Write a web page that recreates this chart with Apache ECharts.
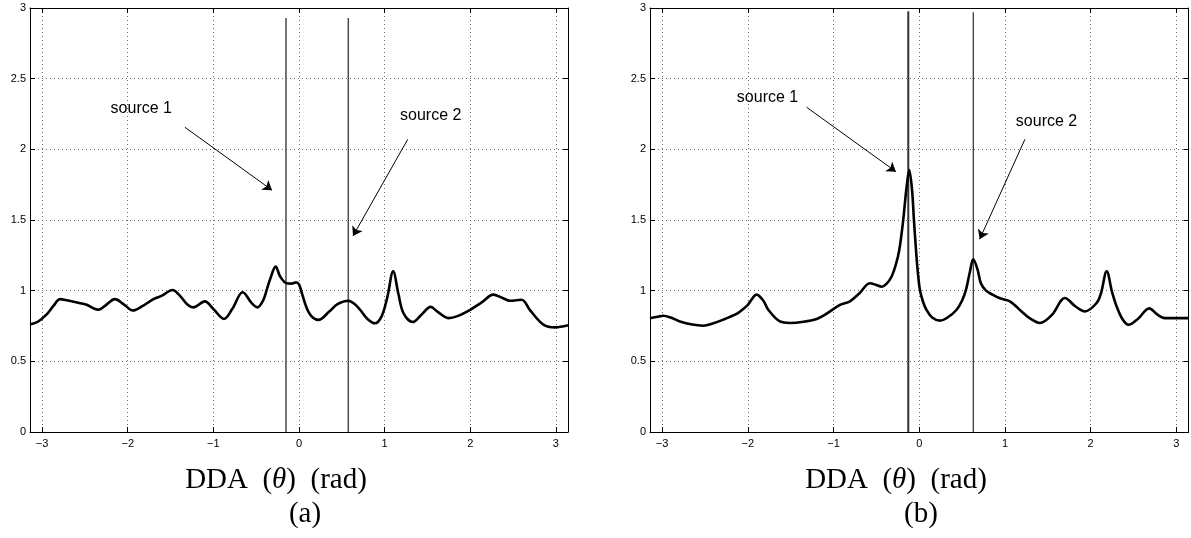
<!DOCTYPE html>
<html>
<head>
<meta charset="utf-8">
<script src="https://cdn.jsdelivr.net/npm/echarts@6/dist/echarts.min.js"></script>
<style>
html,body{margin:0;padding:0;background:#fff;}
#chart{width:1191px;height:538px;}
</style>
</head>
<body>
<div id="chart"></div>
<script>
// ---- data ----
const thetaA = [-3.1416,-3.05,-2.95,-2.87,-2.79,-2.70,-2.58,-2.48,-2.40,-2.345,-2.27,-2.15,-2.05,-1.94,-1.83,-1.70,-1.60,-1.476,-1.40,-1.30,-1.235,-1.10,-1.00,-0.876,-0.78,-0.658,-0.55,-0.487,-0.42,-0.377,-0.338,-0.272,-0.22,-0.144,-0.09,-0.035,0.0,0.03,0.07,0.109,0.16,0.226,0.35,0.45,0.576,0.65,0.713,0.80,0.888,0.966,1.03,1.10,1.16,1.219,1.328,1.43,1.538,1.62,1.744,1.85,2.00,2.13,2.27,2.37,2.465,2.60,2.70,2.854,2.99,3.1416];
const ddaA   = [0.76,0.78,0.83,0.89,0.94,0.93,0.915,0.90,0.875,0.865,0.89,0.94,0.905,0.86,0.89,0.94,0.965,1.005,0.97,0.90,0.882,0.924,0.87,0.80,0.87,0.989,0.91,0.882,0.93,1.005,1.08,1.17,1.10,1.052,1.05,1.059,1.045,0.99,0.91,0.851,0.81,0.793,0.85,0.905,0.929,0.905,0.865,0.80,0.769,0.82,0.95,1.137,0.98,0.842,0.778,0.83,0.885,0.85,0.806,0.82,0.865,0.915,0.972,0.95,0.929,0.936,0.86,0.76,0.74,0.755];

const thetaB = [-3.1416,-3.05,-2.987,-2.90,-2.792,-2.65,-2.52,-2.40,-2.267,-2.15,-2.09,-2.00,-1.897,-1.82,-1.762,-1.625,-1.509,-1.35,-1.197,-1.10,-0.925,-0.809,-0.70,-0.575,-0.50,-0.439,-0.38,-0.322,-0.275,-0.233,-0.187,-0.15,-0.117,-0.085,-0.062,-0.038,-0.015,0.008,0.045,0.086,0.15,0.242,0.33,0.436,0.50,0.545,0.59,0.63,0.68,0.72,0.78,0.86,0.942,1.058,1.214,1.30,1.408,1.55,1.70,1.82,1.934,2.07,2.12,2.187,2.25,2.303,2.37,2.44,2.55,2.684,2.78,2.867,3.1416];
const ddaB   = [0.805,0.815,0.823,0.81,0.782,0.76,0.752,0.77,0.80,0.83,0.853,0.90,0.972,0.93,0.865,0.782,0.771,0.78,0.80,0.83,0.899,0.925,0.98,1.052,1.04,1.028,1.05,1.10,1.18,1.288,1.50,1.72,1.854,1.72,1.50,1.288,1.12,1.005,0.92,0.863,0.81,0.788,0.81,0.865,0.93,1.005,1.13,1.222,1.15,1.05,1.00,0.97,0.946,0.924,0.842,0.80,0.771,0.83,0.948,0.89,0.853,0.913,0.98,1.137,0.99,0.889,0.80,0.759,0.80,0.875,0.83,0.806,0.806];

const xTicks = [-3,-2,-1,0,1,2,3];
const yMin = 0, yMax = 3, yStep = 0.5;

// true source directions (vertical lines) and their heights
const sourcesA = [-0.152, 0.576];
const sourceTopA = [2.93, 2.93];
const sourcesB = [-0.128, 0.63];
const sourceTopB = [2.977, 2.97];

// annotations (data coordinates)
const labelText = ['source 1', 'source 2'];
const labelAtA = [[-2.20, 2.286], [1.18, 2.236]];
const arrowsA = [[[-1.332, 2.156], [-0.315, 1.711]], [[1.27, 2.071], [0.631, 1.387]]];
const labelAtB = [[-2.128, 2.366], [1.127, 2.196]];
const arrowsB = [[[-1.315, 2.298], [-0.272, 1.842]], [[1.233, 2.071], [0.705, 1.364]]];

const captions = ['(a)', '(b)'];

// ---- build ----
const tickFont = 'Liberation Sans, Arial, sans-serif';
const gridStyle = {color: '#6a6a6a', width: 1, type: [1, 3]};

function xAxes(g) {
  return [
    {type: 'value', gridIndex: g, position: 'bottom', min: -Math.PI, max: Math.PI,
     axisLine: {show: true, onZero: false, lineStyle: {color: '#000', width: 1}},
     axisTick: {show: true, inside: true, length: 5, customValues: xTicks, lineStyle: {color: '#000'}},
     axisLabel: {show: true, customValues: xTicks, color: '#000', fontSize: 11, fontFamily: tickFont, margin: 6,
                 formatter: v => String(v).replace('-', '\u2212')},
     splitLine: {show: true, lineStyle: gridStyle}},
    {type: 'value', gridIndex: g, position: 'top', min: -Math.PI, max: Math.PI,
     axisLine: {show: true, onZero: false, lineStyle: {color: '#000', width: 1}},
     axisTick: {show: true, inside: true, length: 5, customValues: xTicks, lineStyle: {color: '#000'}},
     axisLabel: {show: false, customValues: xTicks},
     splitLine: {show: false}}
  ];
}
function yAxes(g) {
  return [
    {type: 'value', gridIndex: g, position: 'left', min: yMin, max: yMax, interval: yStep,
     axisLine: {show: true, onZero: false, lineStyle: {color: '#000', width: 1}},
     axisTick: {show: true, inside: true, length: 5, lineStyle: {color: '#000'}},
     axisLabel: {show: true, color: '#000', fontSize: 11, fontFamily: tickFont, margin: 4},
     splitLine: {show: true, lineStyle: gridStyle}},
    {type: 'value', gridIndex: g, position: 'right', min: yMin, max: yMax, interval: yStep,
     axisLine: {show: true, onZero: false, lineStyle: {color: '#000', width: 1}},
     axisTick: {show: true, inside: true, length: 5, lineStyle: {color: '#000'}},
     axisLabel: {show: false},
     splitLine: {show: false}}
  ];
}

function curveSeries(g, thetas, vals, labelAt, arrows) {
  return {
    type: 'line', xAxisIndex: g * 2, yAxisIndex: g * 2,
    data: thetas.map((t, i) => [t, vals[i]]),
    showSymbol: false, smooth: 0.35, clip: true,
    lineStyle: {color: '#000', width: 2.6},
    silent: true,
    markLine: {
      silent: true, symbol: ['none', 'arrow'], symbolSize: 9,
      lineStyle: {color: '#000', width: 1, type: 'solid'},
      label: {show: false},
      data: arrows.map(a => [{coord: a[0]}, {coord: a[1]}])
    },
    markPoint: {
      silent: true,
      data: labelAt.map((p, i) => ({
        coord: p, symbol: 'circle', symbolSize: 0,
        itemStyle: {color: 'rgba(0,0,0,0)'},
        label: {show: true, position: 'right', distance: 0, formatter: labelText[i],
                color: '#000', fontSize: 16, fontFamily: tickFont}
      }))
    }
  };
}

function sourceSeries(g, xs, tops, colors, widths) {
  return xs.map((x, i) => ({
    type: 'line', xAxisIndex: g * 2, yAxisIndex: g * 2,
    data: [[x, 0], [x, tops[i]]],
    showSymbol: false, silent: true,
    lineStyle: {color: colors[i], width: widths[i]}
  }));
}

const chart = echarts.init(document.getElementById('chart'), null, {renderer: 'canvas'});
const capFont = 'Liberation Serif, Times New Roman, serif';
const option = {
  animation: false,
  backgroundColor: '#fff',
  grid: [
    {left: 30, top: 8, width: 538, height: 424},
    {left: 650, top: 8, width: 538.5, height: 424}
  ],
  xAxis: [...xAxes(0), ...xAxes(1)],
  yAxis: [...yAxes(0), ...yAxes(1)],
  series: [
    ...sourceSeries(0, sourcesA, sourceTopA, ['#4a4a4a', '#4a4a4a'], [1.5, 1.5]),
    ...sourceSeries(1, sourcesB, sourceTopB, ['#333', '#000'], [2, 1]),
    curveSeries(0, thetaA, ddaA, labelAtA, arrowsA),
    curveSeries(1, thetaB, ddaB, labelAtB, arrowsB)
  ],
  graphic: [0, 1].map(g => ([
    {type: 'text', x: 276 + g * 620, y: 480,
     style: {text: 'DDA  ({i|θ})  (rad)', font: '29px ' + capFont, fill: '#000', textAlign: 'center', textVerticalAlign: 'middle',
             rich: {i: {fontStyle: 'italic', fontSize: 29, fontFamily: capFont}}}},
    {type: 'text', x: 305 + g * 616, y: 514,
     style: {text: captions[g], font: '29px ' + capFont, fill: '#000', textAlign: 'center', textVerticalAlign: 'middle'}}
  ])).flat()
};
chart.setOption(option);
</script>
</body>
</html>
